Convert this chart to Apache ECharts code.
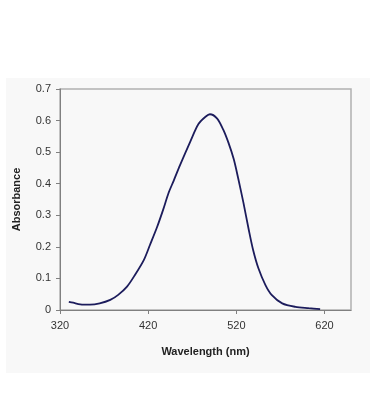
<!DOCTYPE html>
<html>
<head>
<meta charset="utf-8">
<script src="https://cdn.jsdelivr.net/npm/echarts@6/dist/echarts.min.js"></script>
<style>html,body{margin:0;padding:0;background:#fff;}#c{width:370px;height:420px;}</style>
</head>
<body>
<div id="c"></div>
<script>
var wavelength = [330,335,343,354,365,377,386,396,405,415,422,430,437,443,449,456,468,477,485,490,498,505,511,517,522,528,534,539,545,553,560,572,587,602,615];
var absorbance = [0.026,0.023,0.018,0.017,0.021,0.032,0.048,0.074,0.111,0.158,0.206,0.262,0.318,0.370,0.410,0.458,0.535,0.589,0.612,0.620,0.607,0.572,0.530,0.478,0.418,0.340,0.255,0.190,0.132,0.079,0.048,0.021,0.010,0.006,0.003];
var xTicks = [320,420,520,620];
var yTicks = [0,0.1,0.2,0.3,0.4,0.5,0.6,0.7];

var chart = echarts.init(document.getElementById('c'));
var pts = wavelength.map(function(w,i){return [w, absorbance[i]];});
chart.setOption({
  animation:false,
  backgroundColor:'#ffffff',
  graphic:[{type:'rect',z:-10,shape:{x:6,y:78,width:364,height:295},style:{fill:'#f8f8f8'}}],
  grid:{left:60,top:89,right:19,bottom:110,show:true,borderColor:'#b0b0b0',borderWidth:1.5,backgroundColor:'#f8f8f8'},
  xAxis:{type:'value',min:320,max:650,interval:100,
    name:'Wavelength (nm)',nameLocation:'middle',nameGap:36,
    nameTextStyle:{fontFamily:'Liberation Sans',fontWeight:'bold',fontSize:11,color:'#222'},
    axisLine:{show:true,lineStyle:{color:'#808080',width:1}},
    axisTick:{show:true,length:4,inside:false,customValues:xTicks,lineStyle:{color:'#808080'}},
    axisLabel:{customValues:xTicks,fontFamily:'Liberation Sans',fontSize:11,color:'#333',margin:10},
    splitLine:{show:false}},
  yAxis:{type:'value',min:0,max:0.7,interval:0.1,
    name:'Absorbance',nameLocation:'middle',nameGap:38,
    nameTextStyle:{fontFamily:'Liberation Sans',fontWeight:'bold',fontSize:11,color:'#222'},
    axisLine:{show:true,lineStyle:{color:'#808080',width:1}},
    axisTick:{show:true,length:4,inside:false,lineStyle:{color:'#808080'}},
    axisLabel:{fontFamily:'Liberation Sans',fontSize:11,color:'#333',margin:9,
      formatter:function(v){return v===0?'0':v.toFixed(1);}},
    splitLine:{show:false}},
  series:[{type:'line',data:pts,showSymbol:false,smooth:0.3,
    lineStyle:{color:'#1c1c5c',width:1.8}}]
});
</script>
</body>
</html>
